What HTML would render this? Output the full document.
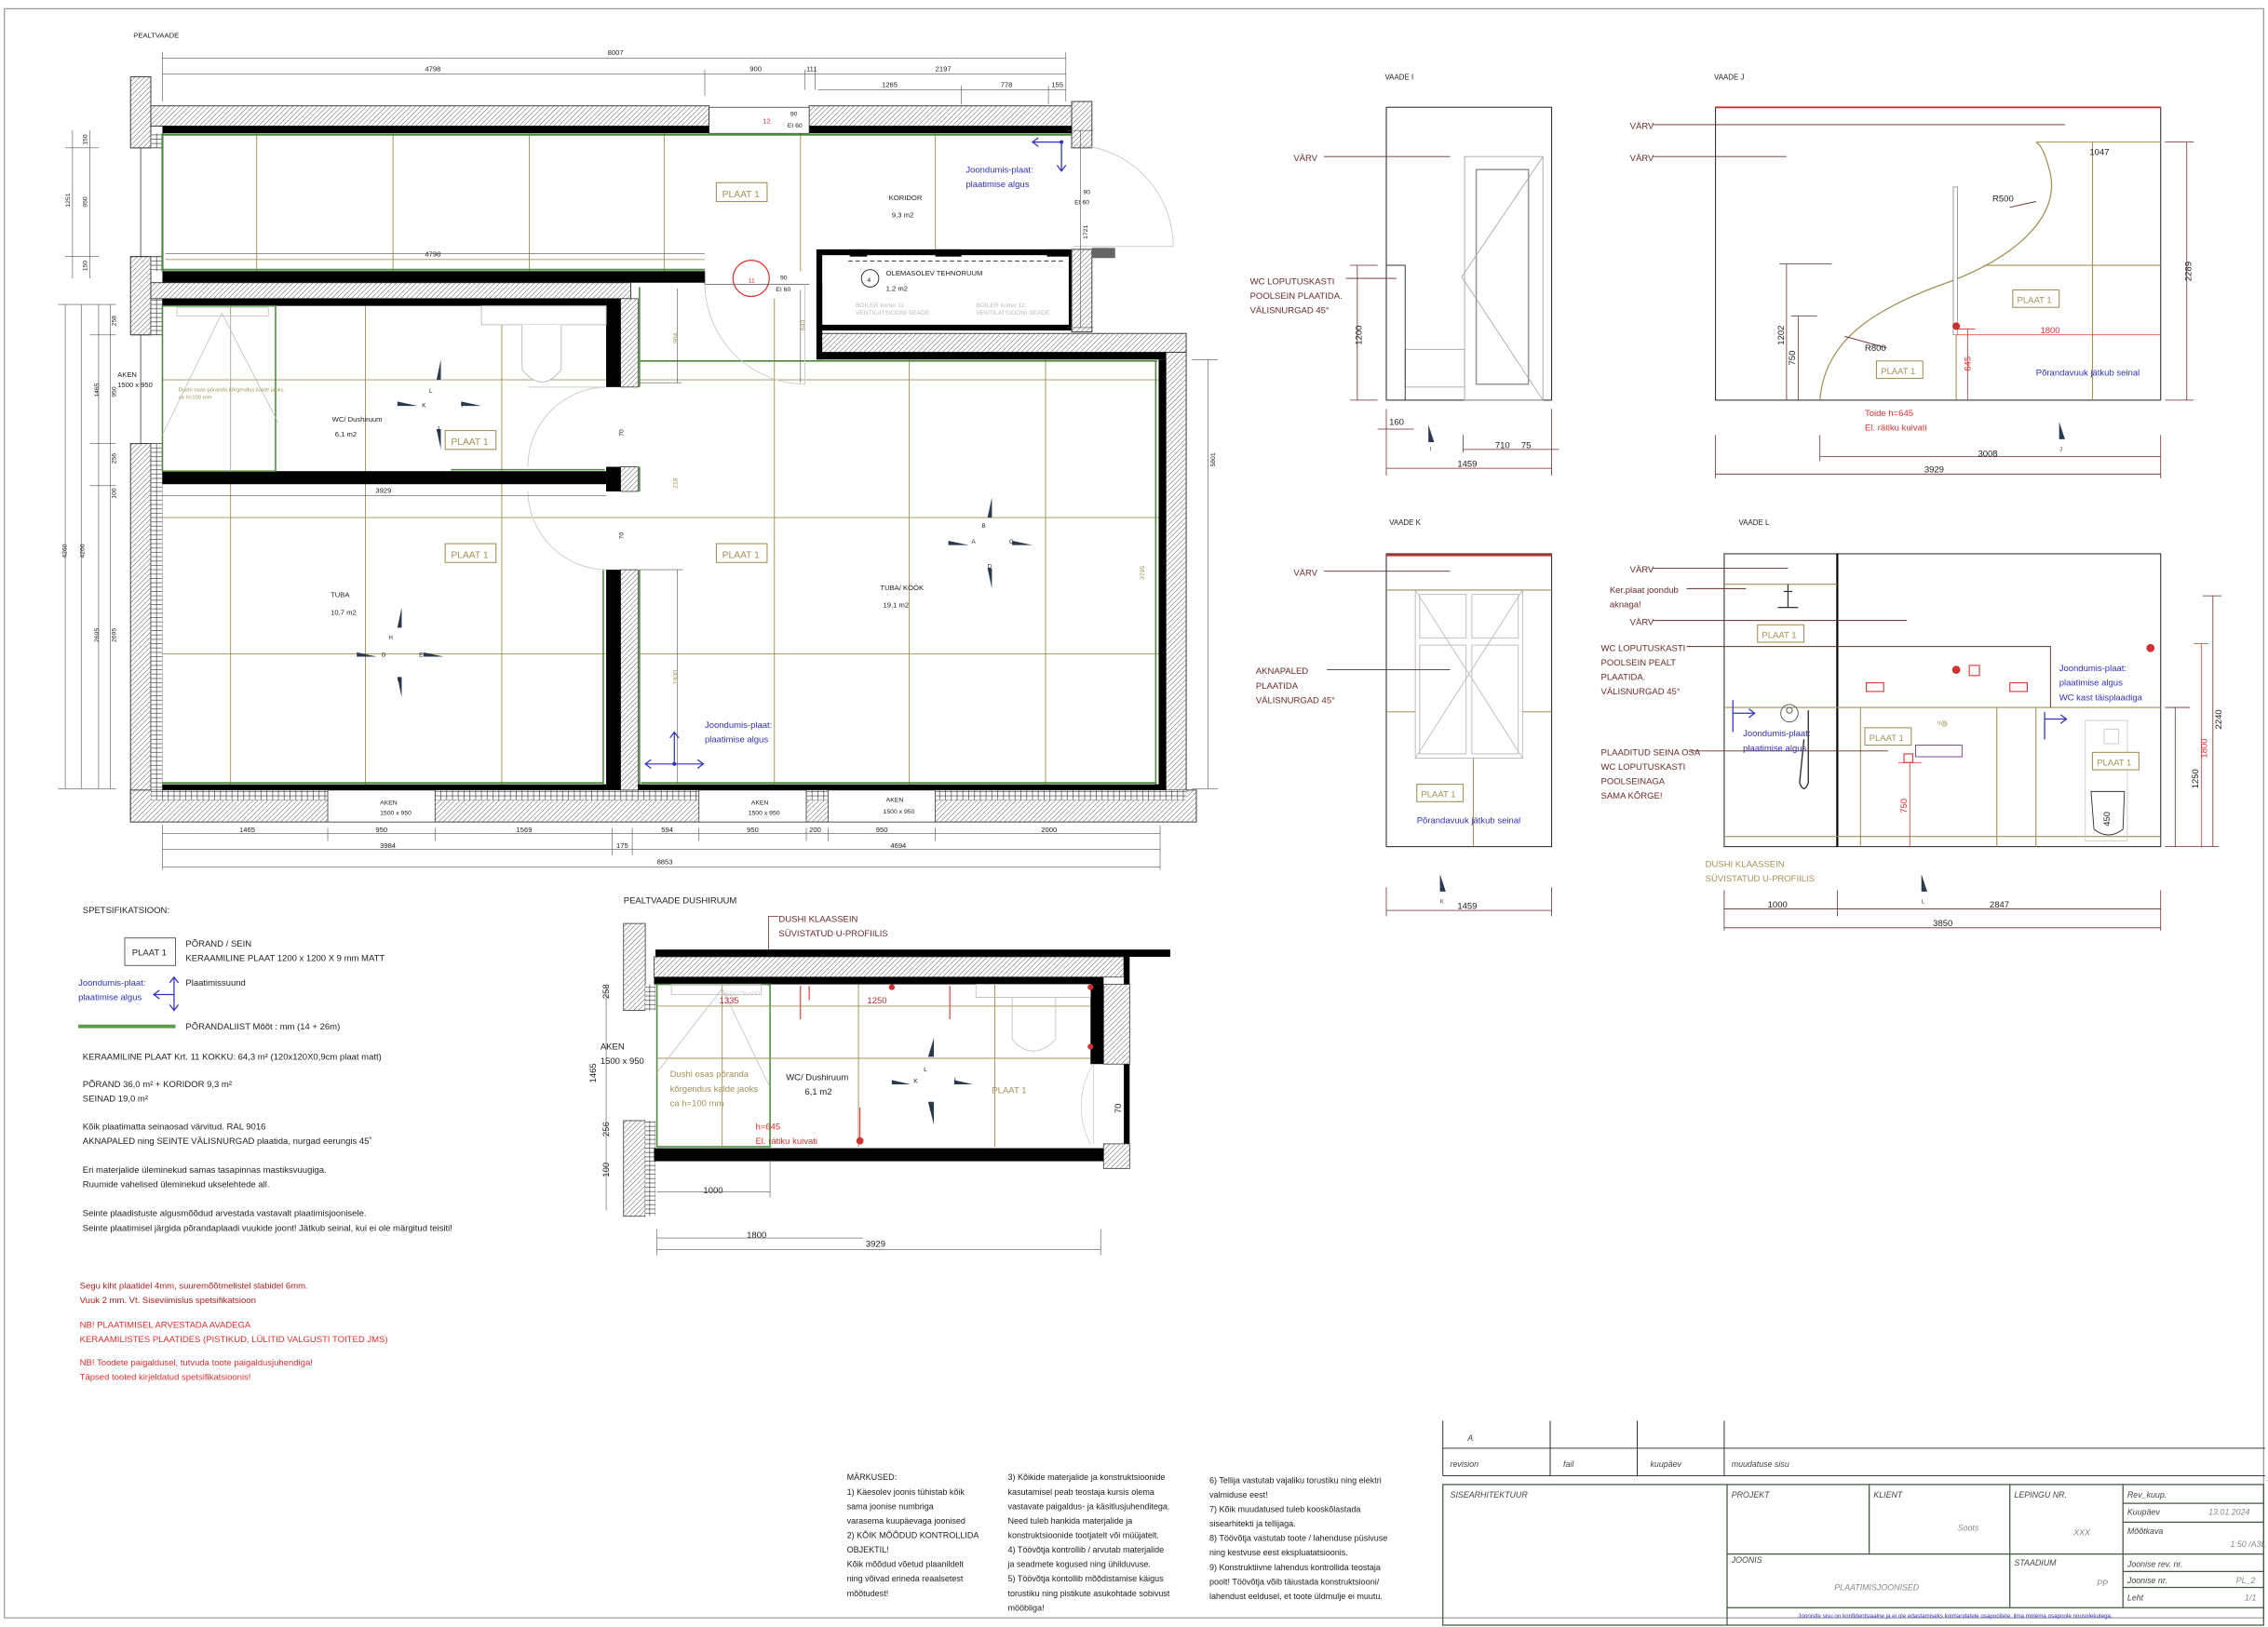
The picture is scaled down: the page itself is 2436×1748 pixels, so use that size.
<!DOCTYPE html>
<html><head><meta charset="utf-8"><style>
html,body{margin:0;padding:0;background:#fff}
svg{display:block}
text{font-family:"Liberation Sans Narrow","Liberation Sans",sans-serif}
[font-size="7"]{font-size:6.1px}
[font-size="7.5"]{font-size:6.6px}
[font-size="6.6"]{font-size:5.8px}
[font-size="6.5"]{font-size:5.7px}
[font-size="5.8"]{font-size:5.1px}
[font-size="5.5"]{font-size:4.9px}
[font-size="5"]{font-size:4.4px}
[font-size="4.5"]{font-size:4px}
</style></head><body>
<svg width="2436" height="1748" viewBox="0 0 1564 1122.3" xmlns="http://www.w3.org/2000/svg">
<defs>
<pattern id="h" patternUnits="userSpaceOnUse" width="2.4" height="2.4" patternTransform="rotate(45)">
<rect width="2.4" height="2.4" fill="#fff"/><line x1="0" y1="0" x2="0" y2="2.4" stroke="#555" stroke-width="0.6"/></pattern>
<pattern id="b" patternUnits="userSpaceOnUse" width="4" height="3">
<rect width="4" height="3" fill="#fff" stroke="#333" stroke-width="0.4"/></pattern>
</defs>
<rect x="0" y="0" width="1564" height="1122.3" fill="#fff"/>
<polyline points="3,1116 3,6 1561,6 1561,1116 3,1116" fill="none" stroke="#999" stroke-width="0.8"/>

<g font-size="5.5" fill="#222">
<text x="92" y="26">PEALTVAADE</text>
</g>

<g>
<g stroke="#a39155" stroke-width="0.6">
<line x1="177" y1="92" x2="177" y2="187"/><line x1="271" y1="92" x2="271" y2="187"/><line x1="365" y1="92" x2="365" y2="187"/><line x1="458" y1="92" x2="458" y2="187"/><line x1="552" y1="92" x2="552" y2="187"/><line x1="645" y1="92" x2="645" y2="172"/>
<line x1="114" y1="179" x2="486" y2="179"/>
<line x1="159" y1="211" x2="159" y2="542"/><line x1="252" y1="211" x2="252" y2="542"/><line x1="346" y1="224" x2="346" y2="542"/>
<line x1="534" y1="206" x2="534" y2="542"/><line x1="627" y1="248" x2="627" y2="542"/><line x1="721" y1="248" x2="721" y2="542"/>
<line x1="112" y1="262" x2="418" y2="262"/><line x1="441" y1="262" x2="799" y2="262"/>
<line x1="112" y1="357" x2="799" y2="357"/><line x1="112" y1="451" x2="418" y2="451"/><line x1="441" y1="451" x2="799" y2="451"/>
</g>
<rect x="90" y="53" width="14" height="49" fill="url(#h)" stroke="#333" stroke-width="0.6"/>
<rect x="90" y="177" width="14" height="54" fill="url(#h)" stroke="#333" stroke-width="0.6"/>
<rect x="90" y="306" width="14" height="261" fill="url(#h)" stroke="#333" stroke-width="0.6"/>
<rect x="104" y="92" width="8" height="10" fill="url(#b)"/><rect x="104" y="177" width="8" height="10" fill="url(#b)"/>
<rect x="104" y="206" width="8" height="25" fill="url(#b)"/><rect x="104" y="306" width="8" height="239" fill="url(#b)"/>
<g stroke="#333" stroke-width="0.5" fill="none"><line x1="90" y1="102" x2="112" y2="102"/><line x1="90" y1="177" x2="112" y2="177"/><line x1="97" y1="102" x2="97" y2="177"/><line x1="90" y1="231" x2="112" y2="231"/><line x1="90" y1="306" x2="112" y2="306"/><line x1="97" y1="231" x2="97" y2="306"/></g>
<rect x="104" y="73" width="385" height="14" fill="url(#h)" stroke="#333" stroke-width="0.6"/>
<rect x="558" y="73" width="182" height="14" fill="url(#h)" stroke="#333" stroke-width="0.6"/>
<rect x="739" y="70" width="14" height="32" fill="url(#h)" stroke="#333" stroke-width="0.6"/>
<rect x="112" y="87" width="377" height="5" fill="#000"/><rect x="558" y="87" width="181" height="5" fill="#000"/>
<rect x="489" y="74" width="69" height="18" fill="#fff" stroke="#333" stroke-width="0.5"/>
<text x="526" y="85" font-size="5.5" fill="#e03030">12</text>
<text x="545" y="80" font-size="5" fill="#222">90</text><text x="543" y="88" font-size="5" fill="#222">EI 60</text>
<polyline points="112,92 112,187" stroke="#4a8a3a" stroke-width="1.4" fill="none"/>
<line x1="112" y1="93" x2="739" y2="93" stroke="#4a8a3a" stroke-width="1.2"/>
<line x1="112" y1="186" x2="486" y2="186" stroke="#4a8a3a" stroke-width="1.2"/>
<rect x="112" y="187" width="374" height="8" fill="#000"/>
<rect x="104" y="195" width="331" height="11" fill="url(#h)" stroke="#333" stroke-width="0.6"/>
<line x1="486" y1="187" x2="486" y2="196" stroke="#333" stroke-width="0.5"/>
<line x1="486" y1="196" x2="558" y2="196" stroke="#333" stroke-width="0.4"/>
<circle cx="518" cy="192" r="12.5" fill="none" stroke="#e03030" stroke-width="0.8"/>
<text x="516" y="195" font-size="5" fill="#e03030">11</text>
<text x="538" y="193" font-size="5" fill="#222">90</text><text x="535" y="201" font-size="5" fill="#222">EI 60</text>
<rect x="565" y="174" width="174" height="52" fill="#fff" stroke="#000" stroke-width="4"/>
<line x1="585" y1="180" x2="735" y2="180" stroke="#333" stroke-width="0.6" stroke-dasharray="3,2"/>
<rect x="586" y="172" width="12" height="5" fill="#000"/><rect x="645" y="172" width="18" height="5" fill="#000"/><rect x="722" y="172" width="15" height="5" fill="#000"/>
<rect x="739" y="172" width="14" height="57" fill="url(#h)" stroke="#333" stroke-width="0.6"/>
<rect x="753" y="171" width="16" height="7" fill="#666"/>
<rect x="564" y="230" width="254" height="13" fill="url(#h)" stroke="#333" stroke-width="0.6"/>
<rect x="564" y="243" width="240" height="5" fill="#000"/>
<rect x="563" y="196" width="4" height="52" fill="#000"/>
<circle cx="600" cy="192" r="6" fill="#fff" stroke="#222" stroke-width="0.6"/>
<text x="598" y="194.5" font-size="5" fill="#222">4</text>
<text x="611" y="190" font-size="5.5" fill="#222">OLEMASOLEV TEHNORUUM</text>
<text x="611" y="200.5" font-size="5.5" fill="#222">1,2 m2</text>
<g font-size="4.3" fill="#bbb"><text x="590" y="212">BOILER korter 11</text><text x="590" y="217">VENTILATSIOONI SEADE</text><text x="673" y="212">BOILER korter 12</text><text x="673" y="217">VENTILATSIOONI SEADE</text></g>
<rect x="804" y="243" width="14" height="302" fill="url(#h)" stroke="#333" stroke-width="0.6"/>
<rect x="799" y="248" width="5" height="297" fill="#000"/>
<line x1="441" y1="249" x2="798" y2="249" stroke="#4a8a3a" stroke-width="1"/>
<line x1="797" y1="249" x2="797" y2="541" stroke="#4a8a3a" stroke-width="1"/>
<rect x="90" y="545" width="735" height="22" fill="url(#h)" stroke="#333" stroke-width="0.6"/>
<rect x="104" y="545" width="714" height="7" fill="url(#b)"/>
<g fill="#fff" stroke="#333" stroke-width="0.5"><rect x="226" y="545" width="74" height="22"/><rect x="482" y="545" width="74" height="22"/><rect x="571" y="545" width="74" height="22"/></g>
<g font-size="5" fill="#222"><text x="262" y="555">AKEN</text><text x="262" y="562">1500 x 950</text><text x="518" y="555">AKEN</text><text x="516" y="562">1500 x 950</text><text x="611" y="553">AKEN</text><text x="609" y="561">1500 x 950</text></g>
<rect x="112" y="541" width="306" height="4" fill="#000"/><rect x="440" y="541" width="364" height="4" fill="#000"/>
<line x1="112" y1="540" x2="416" y2="540" stroke="#4a8a3a" stroke-width="1"/><line x1="442" y1="540" x2="797" y2="540" stroke="#4a8a3a" stroke-width="1"/>
<rect x="112" y="206" width="306" height="5" fill="#000"/>
<rect x="112" y="325" width="306" height="9" fill="#000"/>
<line x1="311" y1="324" x2="417" y2="324" stroke="#4a8a3a" stroke-width="1"/>
<rect x="418" y="206" width="10" height="61" fill="#000"/><rect x="428" y="206" width="12" height="61" fill="url(#h)" stroke="#333" stroke-width="0.5"/>
<rect x="418" y="322" width="10" height="17" fill="#000"/><rect x="428" y="322" width="12" height="17" fill="url(#h)" stroke="#333" stroke-width="0.5"/>
<rect x="418" y="393" width="10" height="152" fill="#000"/><rect x="428" y="393" width="12" height="152" fill="url(#h)" stroke="#333" stroke-width="0.5"/>
<line x1="441" y1="198" x2="441" y2="267" stroke="#4a8a3a" stroke-width="1"/><line x1="441" y1="322" x2="441" y2="339" stroke="#4a8a3a" stroke-width="1"/><line x1="441" y1="393" x2="441" y2="541" stroke="#4a8a3a" stroke-width="1"/>
<line x1="416" y1="393" x2="416" y2="541" stroke="#4a8a3a" stroke-width="1"/>
<rect x="112" y="211" width="78" height="114" fill="none" stroke="#4a8a3a" stroke-width="1"/>
<g stroke="#bbb" stroke-width="0.5" fill="none"><rect x="122" y="212" width="63" height="6"/><line x1="112" y1="300" x2="153" y2="216"/><line x1="192" y1="292" x2="153" y2="216"/><line x1="159" y1="216" x2="159" y2="325"/></g>
<text x="123" y="270" font-size="3.8" fill="#a39155">Dushi osas põranda kõrgendus kalde jaoks</text><text x="123" y="275" font-size="3.8" fill="#a39155">ca h=100 mm</text>
<g stroke="#bbb" stroke-width="0.6" fill="#fff"><rect x="332" y="211" width="86" height="13"/><path d="M360,224 L360,255 Q374,272 387,255 L387,224"/></g>
<g stroke="#ccc" stroke-width="0.6" fill="none">
<path d="M418,267 L364,267 M364,322 A55,55 0 0 1 418,267"/>
<path d="M364,339 A55,55 0 0 0 418,393"/>
<path d="M486,196 A70,70 0 0 0 555,265 L555,196"/>
<path d="M740,100 A70,70 0 0 1 809,170 L740,170"/>
</g>
<text x="425" y="298" font-size="5" fill="#222" transform="rotate(-90 429 297)">70</text>
<text x="425" y="369" font-size="5" fill="#222" transform="rotate(-90 429 368)">70</text>
<g font-size="7.5" fill="#a39155"><rect x="494" y="126" width="35" height="13" fill="#fff" stroke="#a39155" stroke-width="0.7"/><text x="498" y="136">PLAAT 1</text>
<rect x="307" y="297" width="35" height="13" fill="#fff" stroke="#a39155" stroke-width="0.7"/><text x="311" y="307">PLAAT 1</text>
<rect x="307" y="375" width="35" height="13" fill="#fff" stroke="#a39155" stroke-width="0.7"/><text x="311" y="385">PLAAT 1</text>
<rect x="494" y="375" width="35" height="13" fill="#fff" stroke="#a39155" stroke-width="0.7"/><text x="498" y="385">PLAAT 1</text></g>
<g font-size="5.5" fill="#222">
<text x="613" y="138">KORIDOR</text><text x="615" y="150">9,3 m2</text>
<text x="229" y="291">WC/ Dushiruum</text><text x="231" y="301">6,1 m2</text>
<text x="228" y="412">TUBA</text><text x="228" y="424">10,7 m2</text>
<text x="607" y="407">TUBA/ KÖÖK</text><text x="609" y="419">19,1 m2</text>
<text x="81" y="260">AKEN</text><text x="81" y="267">1500 x 950</text>
</g>
<g font-size="7" fill="#3030c0"><text x="666" y="119">Joondumis-plaat:</text><text x="666" y="129">plaatimise algus</text>
<text x="486" y="502">Joondumis-plaat:</text><text x="486" y="512">plaatimise algus</text></g>
<g stroke="#3030c0" stroke-width="0.8" fill="none"><path d="M732,98 L712,98 M716,95 L712,98 L716,101 M732,98 L732,118 M729,114 L732,118 L735,114"/>
<path d="M465,527 L465,505 M462,509 L465,505 L468,509 M445,527 L485,527 M449,524 L445,527 L449,530 M481,524 L485,527 L481,530"/></g>
<circle cx="732" cy="98" r="1.3" fill="#3030c0"/><circle cx="465" cy="527" r="1.3" fill="#3030c0"/>
<g fill="#2a3a50">
<path d="M304,248 L304,262 L301,262Z"/><path d="M288,280 L274,280 L274,277Z"/><path d="M318,280 L332,280 L318,277Z"/><path d="M304,296 L304,310 L301,296Z"/>
<path d="M684,343 L684,357 L681,357Z"/><path d="M668,376 L654,376 L654,373Z"/><path d="M698,376 L712,376 L698,373Z"/><path d="M684,392 L684,406 L681,392Z"/>
<path d="M277,419 L277,433 L274,433Z"/><path d="M260,453 L246,453 L246,450Z"/><path d="M292,453 L306,453 L292,450Z"/><path d="M277,467 L277,481 L274,467Z"/>
</g>
<g font-size="4.5" fill="#222"><text x="296" y="271">L</text><text x="291" y="281">K</text><text x="318" y="281">I</text><text x="301" y="297">J</text>
<text x="677" y="364">B</text><text x="670" y="375">A</text><text x="696" y="375">C</text><text x="681" y="392">D</text>
<text x="268" y="441">H</text><text x="263" y="453">G</text><text x="289" y="453">E</text><text x="274" y="470">F</text></g>
<g stroke="#555" stroke-width="0.4">
<line x1="112" y1="40" x2="735" y2="40"/><line x1="112" y1="36" x2="112" y2="70"/><line x1="735" y1="36" x2="735" y2="70"/>
<line x1="112" y1="51" x2="735" y2="51"/><line x1="486" y1="48" x2="486" y2="66"/><line x1="555" y1="48" x2="555" y2="62"/><line x1="562" y1="48" x2="562" y2="62"/>
<line x1="564" y1="62" x2="735" y2="62"/><line x1="663" y1="59" x2="663" y2="72"/><line x1="723" y1="59" x2="723" y2="72"/>
<line x1="112" y1="569" x2="112" y2="600"/><line x1="112" y1="575" x2="800" y2="575"/><line x1="112" y1="586" x2="800" y2="586"/><line x1="112" y1="598" x2="800" y2="598"/>
<line x1="226" y1="571" x2="226" y2="580"/><line x1="300" y1="571" x2="300" y2="580"/><line x1="422" y1="571" x2="422" y2="590"/><line x1="436" y1="571" x2="436" y2="590"/><line x1="482" y1="571" x2="482" y2="580"/><line x1="556" y1="571" x2="556" y2="580"/><line x1="571" y1="571" x2="571" y2="580"/><line x1="645" y1="571" x2="645" y2="580"/><line x1="800" y1="569" x2="800" y2="600"/>
<line x1="50" y1="90" x2="50" y2="192"/><line x1="62" y1="90" x2="62" y2="192"/><line x1="45" y1="210" x2="45" y2="544"/><line x1="56" y1="210" x2="56" y2="544"/><line x1="68" y1="210" x2="68" y2="544"/><line x1="76" y1="210" x2="76" y2="544"/>
<line x1="40" y1="210" x2="80" y2="210"/><line x1="40" y1="544" x2="80" y2="544"/><line x1="45" y1="102" x2="68" y2="102"/><line x1="45" y1="177" x2="68" y2="177"/><line x1="62" y1="231" x2="80" y2="231"/><line x1="62" y1="306" x2="80" y2="306"/><line x1="62" y1="335" x2="80" y2="335"/>
<line x1="736" y1="90" x2="754" y2="90"/><line x1="745" y1="90" x2="745" y2="226"/><line x1="736" y1="226" x2="754" y2="226"/>
<line x1="822" y1="248" x2="840" y2="248"/><line x1="822" y1="544" x2="840" y2="544"/><line x1="833" y1="248" x2="833" y2="544"/>
<line x1="467" y1="199" x2="467" y2="264"/><line x1="441" y1="264" x2="470" y2="264"/><line x1="552" y1="200" x2="552" y2="264"/>
<line x1="467" y1="393" x2="467" y2="540"/><line x1="441" y1="393" x2="471" y2="393"/>
<line x1="112" y1="342" x2="418" y2="342"/>
<line x1="114" y1="175" x2="486" y2="175"/>
</g>
<g font-size="5.5" fill="#222">
<text x="419" y="38">8007</text><text x="293" y="49">4798</text><text x="517" y="49">900</text><text x="556" y="49">111</text><text x="645" y="49">2197</text>
<text x="608" y="60">1265</text><text x="690" y="60">778</text><text x="725" y="60">155</text>
<text x="293" y="177">4798</text><text x="259" y="340">3929</text>
<text x="165" y="574">1465</text><text x="259" y="574">950</text><text x="356" y="574">1569</text><text x="456" y="574">594</text><text x="515" y="574">950</text><text x="558" y="574">200</text><text x="604" y="574">950</text><text x="718" y="574">2000</text>
<text x="262" y="585">3984</text><text x="425" y="585">175</text><text x="614" y="585">4694</text><text x="453" y="596">8853</text>
</g>
<g font-size="5" fill="#222">
<text transform="translate(48,143) rotate(-90)">1251</text><text transform="translate(60,143) rotate(-90)">950</text><text transform="translate(60,100) rotate(-90)">150</text><text transform="translate(60,187) rotate(-90)">150</text>
<text transform="translate(46,385) rotate(-90)">4260</text><text transform="translate(58,385) rotate(-90)">4260</text><text transform="translate(68,274) rotate(-90)">1465</text><text transform="translate(80,274) rotate(-90)">950</text><text transform="translate(80,225) rotate(-90)">258</text><text transform="translate(80,320) rotate(-90)">256</text><text transform="translate(80,344) rotate(-90)">100</text>
<text transform="translate(68,443) rotate(-90)">2695</text><text transform="translate(80,443) rotate(-90)">2695</text>
<text transform="translate(750,165) rotate(-90)">1721</text><text transform="translate(838,322) rotate(-90)">5801</text>
<text transform="translate(747,134) rotate(0)">90</text><text x="741" y="141">EI 60</text>
</g>
<g font-size="5" fill="#a39155"><text transform="translate(467,237) rotate(-90)">904</text><text transform="translate(555,228) rotate(-90)">643</text><text transform="translate(467,337) rotate(-90)">218</text><text transform="translate(467,472) rotate(-90)">1930</text><text transform="translate(789,400) rotate(-90)">3795</text></g>
</g>

<g font-size="5.8" fill="#222"><text x="955" y="55">VAADE I</text><text x="1182" y="55">VAADE J</text><text x="958" y="362">VAADE K</text><text x="1199" y="362">VAADE L</text></g>
<g stroke="#333" stroke-width="0.7" fill="none">
<rect x="956" y="74" width="114" height="202"/><rect x="1183" y="74" width="307" height="202"/>
<rect x="956" y="382" width="114" height="202"/><rect x="1189" y="382" width="301" height="202"/>
</g>
<line x1="1183" y1="74" x2="1490" y2="74" stroke="#d03030" stroke-width="1.2"/>
<line x1="956" y1="383" x2="1070" y2="383" stroke="#d03030" stroke-width="1.4"/>
<g stroke="#aaa" stroke-width="0.6" fill="none"><rect x="1010" y="108" width="54" height="168"/><rect x="1018" y="117" width="36" height="148" stroke="#999" stroke-width="1"/><path d="M1064,108 L1008,191 L1064,276"/><rect x="969" y="241" width="41" height="26"/></g>
<polyline points="956,183 969,183 969,276" fill="none" stroke="#333" stroke-width="0.6"/>
<path d="M1255,276 C1258,236 1290,214 1340,196 C1390,178 1420,150 1414,120 C1411,108 1408,100 1404,98" fill="none" stroke="#a39155" stroke-width="0.8"/>
<g stroke="#a39155" stroke-width="0.7"><line x1="1404" y1="98" x2="1490" y2="98"/><line x1="1368" y1="183" x2="1490" y2="183"/><line x1="1443" y1="98" x2="1443" y2="276"/><line x1="1349" y1="196" x2="1349" y2="276"/></g>
<rect x="1347" y="129" width="3" height="102" fill="#fff" stroke="#666" stroke-width="0.4"/>
<circle cx="1349" cy="225" r="2.6" fill="#c83030"/>
<g stroke="#e03030" stroke-width="0.5"><line x1="1349" y1="231" x2="1490" y2="231"/><line x1="1357" y1="227" x2="1357" y2="276"/><line x1="1350" y1="227" x2="1362" y2="227"/></g>
<g stroke="#bbb" stroke-width="0.6" fill="none"><rect x="976" y="407" width="74" height="116"/><rect x="979" y="410" width="32" height="30"/><rect x="1015" y="410" width="32" height="30"/><rect x="979" y="445" width="32" height="75"/><rect x="1015" y="445" width="32" height="75"/><path d="M976,407 L1050,523 M1050,407 L976,523"/></g>
<g stroke="#a39155" stroke-width="0.7"><line x1="956" y1="407" x2="1070" y2="407"/><line x1="956" y1="491" x2="976" y2="491"/><line x1="1050" y1="491" x2="1070" y2="491"/><line x1="1016" y1="523" x2="1016" y2="584"/></g>
<line x1="1267" y1="382" x2="1267" y2="584" stroke="#000" stroke-width="1.4"/>
<g stroke="#a39155" stroke-width="0.7"><line x1="1189" y1="403" x2="1267" y2="403"/><line x1="1189" y1="488" x2="1490" y2="488"/><line x1="1189" y1="577" x2="1490" y2="577"/><line x1="1283" y1="488" x2="1283" y2="584"/><line x1="1377" y1="488" x2="1377" y2="584"/><line x1="1404" y1="488" x2="1404" y2="584"/></g>
<g stroke="#ccc" stroke-width="0.6" fill="none"><rect x="1438" y="497" width="29" height="83"/><rect x="1451" y="503" width="10" height="10"/></g>
<path d="M1442,546 L1465,546 L1464,572 Q1454,580 1444,572Z" fill="#fff" stroke="#333" stroke-width="0.6"/>
<rect x="1321" y="514" width="32" height="8" fill="none" stroke="#7a3a8a" stroke-width="0.6"/>
<g stroke="#e03030" stroke-width="0.7" fill="none"><rect x="1287" y="471" width="12" height="6"/><rect x="1386" y="471" width="12" height="6"/><rect x="1358" y="459" width="7" height="7"/><rect x="1313" y="520" width="6" height="6"/></g>
<circle cx="1349" cy="462" r="2.8" fill="#d03030"/><circle cx="1483" cy="447" r="2.8" fill="#d03030"/>
<circle cx="1234" cy="492" r="6" fill="none" stroke="#555" stroke-width="0.6"/><circle cx="1234" cy="490" r="2" fill="none" stroke="#555" stroke-width="0.6"/>
<path d="M1247,490 L1247,540 Q1244,548 1241,540 L1244,510" fill="none" stroke="#333" stroke-width="0.9"/>
<path d="M1230,408 L1236,408 M1233,403 L1233,419 M1226,419 L1240,419" stroke="#333" stroke-width="0.8" fill="none"/>
<text x="1336" y="501" font-size="6" fill="#a39155">ᵑ⊚</text>
<g stroke="#6b2a2a" stroke-width="0.6" fill="none">
<line x1="913" y1="108" x2="1000" y2="108"/><line x1="1140" y1="86" x2="1424" y2="86"/><line x1="1140" y1="108" x2="1232" y2="108"/>
<line x1="928" y1="192" x2="963" y2="192"/><line x1="913" y1="394" x2="1000" y2="394"/><line x1="915" y1="462" x2="1000" y2="462"/>
<line x1="1140" y1="392" x2="1233" y2="392"/><line x1="1163" y1="406" x2="1204" y2="406"/><line x1="1140" y1="428" x2="1315" y2="428"/>
<polyline points="1163,446 1414,446 1414,488"/><line x1="1166" y1="518" x2="1302" y2="518"/>
<line x1="1386" y1="143" x2="1404" y2="139"/><line x1="1301" y1="240" x2="1272" y2="232"/>
</g>
<g font-size="7" fill="#6b2a2a">
<text x="892" y="111">VÄRV</text><text x="1124" y="89">VÄRV</text><text x="1124" y="111">VÄRV</text>
<text x="862" y="196">WC LOPUTUSKASTI</text><text x="862" y="206">POOLSEIN  PLAATIDA.</text><text x="862" y="216">VÄLISNURGAD 45°</text>
<text x="892" y="397">VÄRV</text><text x="866" y="465">AKNAPALED</text><text x="866" y="475">PLAATIDA</text><text x="866" y="485">VÄLISNURGAD 45°</text>
<text x="1124" y="395">VÄRV</text><text x="1110" y="409">Ker.plaat joondub</text><text x="1110" y="419">aknaga!</text><text x="1124" y="431">VÄRV</text>
<text x="1104" y="449">WC LOPUTUSKASTI</text><text x="1104" y="459">POOLSEIN  PEALT</text><text x="1104" y="469">PLAATIDA.</text><text x="1104" y="479">VÄLISNURGAD 45°</text>
<text x="1104" y="521">PLAADITUD SEINA OSA</text><text x="1104" y="531">WC LOPUTUSKASTI</text><text x="1104" y="541">POOLSEINAGA</text><text x="1104" y="551">SAMA KÕRGE!</text>
</g>
<g font-size="7" fill="#222"><text x="1374" y="139">R500</text><text x="1286" y="242">R800</text><text x="1441" y="107">1047</text></g>
<g font-size="7" fill="#a39155"><text x="1176" y="598">DUSHI KLAASSEIN</text><text x="1176" y="608">SÜVISTATUD U-PROFIILIS</text></g>
<g font-size="7" fill="#a39155">
<rect x="1388" y="200" width="32" height="12" fill="#fff" stroke="#a39155" stroke-width="0.7"/><text x="1391" y="209">PLAAT 1</text>
<rect x="1294" y="249" width="32" height="12" fill="#fff" stroke="#a39155" stroke-width="0.7"/><text x="1297" y="258">PLAAT 1</text>
<rect x="977" y="541" width="32" height="12" fill="#fff" stroke="#a39155" stroke-width="0.7"/><text x="980" y="550">PLAAT 1</text>
<rect x="1212" y="431" width="32" height="12" fill="#fff" stroke="#a39155" stroke-width="0.7"/><text x="1215" y="440">PLAAT 1</text>
<rect x="1286" y="502" width="32" height="12" fill="#fff" stroke="#a39155" stroke-width="0.7"/><text x="1289" y="511">PLAAT 1</text>
<rect x="1443" y="519" width="32" height="12" fill="#fff" stroke="#a39155" stroke-width="0.7"/><text x="1446" y="528">PLAAT 1</text>
</g>
<g font-size="7" fill="#3030c0"><text x="1404" y="259">Põrandavuuk jätkub seinal</text><text x="977" y="568">Põrandavuuk jätkub seinal</text>
<text x="1420" y="463">Joondumis-plaat:</text><text x="1420" y="473">plaatimise algus</text><text x="1420" y="483">WC kast täisplaadiga</text>
<text x="1202" y="508">Joondumis-plaat:</text><text x="1202" y="518">plaatimise algus</text></g>
<g stroke="#3030c0" stroke-width="0.8" fill="none"><path d="M1195,483 L1195,505 M1195,492 L1210,492 M1206,489 L1210,492 L1206,495"/><path d="M1410,491 L1410,510 M1410,496 L1425,496 M1421,493 L1425,496 L1421,499"/></g>
<g font-family="Liberation Mono,monospace" font-size="7" fill="#e03030"><text x="1286" y="287">Toide h=645</text><text x="1286" y="297">El. rätiku kuivati</text></g>
<g stroke="#6b2a2a" stroke-width="0.5" fill="none">
<line x1="936" y1="183" x2="936" y2="276"/><line x1="931" y1="183" x2="950" y2="183"/><line x1="931" y1="276" x2="950" y2="276"/>
<line x1="956" y1="282" x2="956" y2="328"/><line x1="1070" y1="282" x2="1070" y2="328"/><line x1="956" y1="323" x2="1070" y2="323"/><line x1="950" y1="296" x2="975" y2="296"/><line x1="1009" y1="300" x2="1009" y2="312"/><line x1="1009" y1="310" x2="1075" y2="310"/>
<line x1="1232" y1="182" x2="1232" y2="276"/><line x1="1227" y1="182" x2="1263" y2="182"/><line x1="1240" y1="218" x2="1240" y2="276"/><line x1="1235" y1="218" x2="1253" y2="218"/>
<line x1="1508" y1="98" x2="1508" y2="276"/><line x1="1493" y1="98" x2="1513" y2="98"/><line x1="1493" y1="276" x2="1513" y2="276"/>
<line x1="1183" y1="300" x2="1183" y2="330"/><line x1="1490" y1="300" x2="1490" y2="330"/><line x1="1255" y1="300" x2="1255" y2="318"/><line x1="1255" y1="315" x2="1490" y2="315"/><line x1="1183" y1="327" x2="1490" y2="327"/>
<line x1="956" y1="612" x2="956" y2="632"/><line x1="1070" y1="612" x2="1070" y2="632"/><line x1="956" y1="628" x2="1070" y2="628"/>
<line x1="1189" y1="614" x2="1189" y2="642"/><line x1="1267" y1="614" x2="1267" y2="632"/><line x1="1490" y1="614" x2="1490" y2="642"/><line x1="1189" y1="627" x2="1490" y2="627"/><line x1="1189" y1="640" x2="1490" y2="640"/>
<line x1="1500" y1="488" x2="1500" y2="584"/><line x1="1493" y1="488" x2="1510" y2="488"/><line x1="1493" y1="584" x2="1530" y2="584"/><line x1="1526" y1="411" x2="1526" y2="584"/><line x1="1519" y1="411" x2="1532" y2="411"/>
</g>
<g stroke="#e03030" stroke-width="0.5"><line x1="1518" y1="444" x2="1518" y2="584"/><line x1="1513" y1="444" x2="1523" y2="444"/><line x1="1317" y1="526" x2="1317" y2="584"/><line x1="1309" y1="526" x2="1325" y2="526"/></g>
<g font-size="7" fill="#222">
<text x="958" y="293">160</text><text x="1031" y="309">710</text><text x="1049" y="309">75</text><text x="1005" y="322">1459</text>
<text x="1364" y="315">3008</text><text x="1327" y="326">3929</text><text x="1005" y="627">1459</text><text x="1219" y="626">1000</text><text x="1372" y="626">2847</text><text x="1333" y="639">3850</text>
<text transform="translate(939,238) rotate(-90)">1200</text><text transform="translate(1230,238) rotate(-90)">1202</text><text transform="translate(1238,252) rotate(-90)">750</text><text transform="translate(1511,194) rotate(-90)">2289</text>
<text transform="translate(1516,544) rotate(-90)">1250</text><text transform="translate(1532,503) rotate(-90)">2240</text><text transform="translate(1455,570) rotate(-90)">450</text>
</g>
<g font-size="7" fill="#e03030"><text x="1407" y="230">1800</text><text transform="translate(1359,256) rotate(-90)">645</text><text transform="translate(1522,523) rotate(-90)">1800</text><text transform="translate(1315,561) rotate(-90)">750</text></g>
<g fill="#2a3a50"><path d="M985,293 L985,305 L989,305Z"/><path d="M1420,291 L1420,303 L1424,303Z"/><path d="M993,603 L993,615 L997,615Z"/><path d="M1325,603 L1325,615 L1329,615Z"/></g>
<g font-size="5" fill="#555"><text x="986" y="311">I</text><text x="1420" y="311">J</text><text x="993" y="623">K</text><text x="1325" y="623">L</text></g>

<g font-size="7" fill="#222">
<text x="57" y="630">SPETSIFIKATSIOON:</text>
<rect x="86" y="647" width="35" height="19" fill="#fff" stroke="#555" stroke-width="0.6"/><text x="91" y="659">PLAAT 1</text>
<text x="128" y="653">PÕRAND / SEIN</text><text x="128" y="663">KERAAMILINE PLAAT 1200 x 1200 X 9 mm MATT</text>
<text x="128" y="680">Plaatimissuund</text>
<text x="128" y="710">PÕRANDALIIST Mõõt : mm (14 + 26m)</text>
<text x="57" y="731">KERAAMILINE PLAAT Krt. 11   KOKKU: 64,3 m² (120x120X0,9cm plaat matt)</text>
<text x="57" y="750">PÕRAND 36,0 m² + KORIDOR 9,3 m²</text><text x="57" y="760">SEINAD 19,0 m²</text>
<text x="57" y="779">Kõik plaatimatta seinaosad värvitud. RAL 9016</text><text x="57" y="789">AKNAPALED  ning  SEINTE VÄLISNURGAD plaatida, nurgad eerungis 45˚</text>
<text x="57" y="809">Eri materjalide üleminekud samas tasapinnas mastiksvuugiga.</text><text x="57" y="819">Ruumide vahelised üleminekud ukselehtede all.</text>
<text x="57" y="839">Seinte plaadistuste algusmõõdud arvestada vastavalt plaatimisjoonisele.</text><text x="57" y="849">Seinte plaatimisel järgida põrandaplaadi vuukide joont! Jätkub seinal, kui ei ole märgitud teisiti!</text>
</g>
<g font-size="7" fill="#b02020">
<text x="55" y="889">Segu kiht plaatidel 4mm, suuremõõtmelistel slabidel 6mm.</text><text x="55" y="899">Vuuk 2 mm. Vt. Siseviimislus spetsifikatsioon</text>
<text x="55" y="916" fill="#e03030">NB! PLAATIMISEL ARVESTADA AVADEGA</text><text x="55" y="926" fill="#e03030">KERAAMILISTES PLAATIDES (PISTIKUD, LÜLITID VALGUSTI TOITED JMS)</text>
<text x="55" y="942" fill="#e03030">NB! Toodete paigaldusel, tutvuda toote paigaldusjuhendiga!</text><text x="55" y="952" fill="#e03030">Täpsed tooted kirjeldatud spetsifikatsioonis!</text>
</g>
<g font-size="7" fill="#3030c0"><text x="54" y="680">Joondumis-plaat:</text><text x="54" y="690">plaatimise algus</text></g>
<path d="M120,674 L120,697 M117,678 L120,674 L123,678 M117,693 L120,697 L123,693 M120,686 L106,686 M110,683 L106,686 L110,689" stroke="#3030c0" stroke-width="0.8" fill="none"/>
<line x1="54" y1="708" x2="121" y2="708" stroke="#5a9a48" stroke-width="2.5"/>

<g>
<text x="430" y="623" font-size="7" fill="#222">PEALTVAADE DUSHIRUUM</text>
<text x="537" y="636" font-size="7" fill="#6b2a2a">DUSHI KLAASSEIN</text><text x="537" y="646" font-size="7" fill="#6b2a2a">SÜVISTATUD U-PROFIILIS</text>
<polyline points="537,632 530,632 530,680" stroke="#6b2a2a" stroke-width="0.5" fill="none"/>
<rect x="430" y="637" width="15" height="60" fill="url(#h)" stroke="#333" stroke-width="0.5"/><rect x="430" y="773" width="15" height="66" fill="url(#h)" stroke="#333" stroke-width="0.5"/>
<rect x="445" y="679" width="7" height="18" fill="url(#b)"/><rect x="445" y="773" width="7" height="66" fill="url(#b)"/>
<rect x="452" y="655" width="355" height="5" fill="#000"/>
<rect x="451" y="660" width="324" height="14" fill="url(#h)" stroke="#333" stroke-width="0.5"/>
<rect x="451" y="674" width="310" height="5" fill="#000"/>
<rect x="775" y="660" width="4" height="140" fill="#000"/>
<rect x="761" y="679" width="18" height="55" fill="url(#h)" stroke="#333" stroke-width="0.5"/><rect x="761" y="789" width="18" height="17" fill="url(#h)" stroke="#333" stroke-width="0.5"/>
<rect x="752" y="679" width="9" height="55" fill="#000"/>
<rect x="451" y="792" width="310" height="9" fill="#000"/>
<rect x="453" y="679" width="78" height="112" fill="none" stroke="#4a8a3a" stroke-width="1"/>
<g stroke="#a39155" stroke-width="0.6"><line x1="453" y1="730" x2="752" y2="730"/><line x1="498" y1="679" x2="498" y2="791"/><line x1="592" y1="679" x2="592" y2="791"/><line x1="686" y1="679" x2="686" y2="791"/><line x1="453" y1="694" x2="752" y2="694"/></g>
<g stroke="#bbb" stroke-width="0.5" fill="none"><rect x="463" y="679" width="62" height="7"/><path d="M453,740 L498,682 L531,750"/><path d="M673,679 L752,679 L752,688 L673,688Z"/><path d="M698,688 L698,717 Q712,733 728,717 L728,688"/></g>
<text x="497" y="687" font-size="5" fill="#ccc">REDUTRAPP</text>
<path d="M754,734 A55,55 0 0 0 752,789 M754,734 L754,789" stroke="#ccc" stroke-width="0.5" fill="none"/>
<g font-size="7" fill="#a39155"><text x="462" y="743">Dushi osas põranda</text><text x="462" y="753">kõrgendus kalde jaoks</text><text x="462" y="763">ca h=100 mm</text><text x="684" y="754">PLAAT 1</text></g>
<g font-size="7" fill="#222"><text x="542" y="745">WC/ Dushiruum</text><text x="555" y="755">6,1 m2</text><text x="414" y="724">AKEN</text><text x="414" y="734">1500 x 950</text><text x="485" y="823">1000</text><text x="515" y="854">1800</text><text x="597" y="860">3929</text><text x="496" y="692" fill="#a33">1335</text><text x="598" y="692" fill="#a33">1250</text></g>
<text transform="translate(773,768) rotate(-90)" font-size="7" fill="#222">70</text>
<g font-size="7" fill="#222"><text transform="translate(411,747) rotate(-90)">1465</text><text transform="translate(420,689) rotate(-90)">258</text><text transform="translate(420,784) rotate(-90)">256</text><text transform="translate(420,812) rotate(-90)">100</text></g>
<g font-family="Liberation Mono,monospace" font-size="7" fill="#e03030"><text x="521" y="779">h=645</text><text x="521" y="789">El. rätiku kuivati</text></g>
<g fill="#d03030"><circle cx="593" cy="787" r="2.5"/><circle cx="615" cy="681" r="2"/><circle cx="752" cy="681" r="2"/><circle cx="752" cy="722" r="2"/></g>
<g stroke="#e03030" stroke-width="0.7"><line x1="552" y1="680" x2="552" y2="703"/><line x1="558" y1="680" x2="558" y2="690"/><line x1="655" y1="680" x2="655" y2="703"/><line x1="593" y1="764" x2="593" y2="787"/></g>
<g stroke="#555" stroke-width="0.4"><line x1="453" y1="822" x2="531" y2="822"/><line x1="531" y1="800" x2="531" y2="826"/><line x1="453" y1="854" x2="595" y2="854"/><line x1="453" y1="862" x2="759" y2="862"/><line x1="453" y1="848" x2="453" y2="866"/><line x1="759" y1="848" x2="759" y2="866"/><line x1="418" y1="680" x2="418" y2="835"/></g>
<g fill="#2a3a50"><path d="M644,716 L644,729 L640,729Z"/><path d="M628,748 L615,748 L615,745Z"/><path d="M658,748 L671,748 L658,745Z"/><path d="M644,760 L644,776 L640,760Z"/></g>
<g font-size="5" fill="#222"><text x="637" y="739">L</text><text x="630" y="747">K</text><text x="658" y="746">I</text><text x="641" y="766">J</text></g>
</g>

<g font-size="6.6" fill="#222">
<text x="584" y="1021">MÄRKUSED:</text><text x="584" y="1031">1) Käesolev joonis tühistab kõik</text><text x="584" y="1041">sama joonise numbriga</text><text x="584" y="1051">varasema kuupäevaga joonised</text><text x="584" y="1061">2) KÕIK MÕÕDUD KONTROLLIDA</text><text x="584" y="1071">OBJEKTIL!</text><text x="584" y="1081">Kõik mõõdud võetud plaanildelt</text><text x="584" y="1091">ning võivad erineda reaalsetest</text><text x="584" y="1101">mõõtudest!</text>
<text x="695" y="1021">3) Kõikide materjalide ja konstruktsioonide</text><text x="695" y="1031">kasutamisel peab teostaja kursis olema</text><text x="695" y="1041">vastavate paigaldus- ja käsitlusjuhenditega.</text><text x="695" y="1051">Need tuleb hankida materjalide ja</text><text x="695" y="1061">konstruktsioonide tootjatelt või müüjatelt.</text><text x="695" y="1071">4) Töövõtja kontrollib / arvutab materjalide</text><text x="695" y="1081">ja seadmete kogused ning ühilduvuse.</text><text x="695" y="1091">5) Töövõtja kontollib mõõdistamise käigus</text><text x="695" y="1101">torustiku ning pistikute asukohtade sobivust</text><text x="695" y="1111">mööbliga!</text>
<text x="834" y="1023">6) Tellija vastutab vajaliku torustiku ning elektri</text><text x="834" y="1033">valmiduse eest!</text><text x="834" y="1043">7) Kõik muudatused tuleb kooskõlastada</text><text x="834" y="1053">sisearhitekti ja tellijaga.</text><text x="834" y="1063">8) Töövõtja vastutab toote / lahenduse püsivuse</text><text x="834" y="1073">ning kestvuse eest ekspluatatsioonis.</text><text x="834" y="1083">9) Konstruktiivne lahendus kontrollida teostaja</text><text x="834" y="1093">poolt! Töövõtja võib täiustada konstruktsiooni/</text><text x="834" y="1103">lahendust eeldusel, et toote üldmulje ei muutu.</text>
</g>

<g stroke="#222" stroke-width="0.6" fill="none">
<line x1="995" y1="980" x2="995" y2="1018"/><line x1="995" y1="999" x2="1562" y2="999"/><line x1="995" y1="1018" x2="1562" y2="1018"/>
<line x1="1069" y1="980" x2="1069" y2="1018"/><line x1="1129" y1="980" x2="1129" y2="1018"/><line x1="1189" y1="980" x2="1189" y2="1018"/>
</g>
<g stroke="#3d5a3d" stroke-width="0.8" fill="none">
<rect x="995" y="1024" width="566" height="97"/>
<line x1="1191" y1="1024" x2="1191" y2="1121"/><line x1="1289" y1="1024" x2="1289" y2="1072"/><line x1="1386" y1="1024" x2="1386" y2="1109"/><line x1="1464" y1="1024" x2="1464" y2="1109"/>
<line x1="1191" y1="1072" x2="1561" y2="1072"/><line x1="1191" y1="1109" x2="1561" y2="1109"/>
<line x1="1464" y1="1037" x2="1561" y2="1037"/><line x1="1464" y1="1050" x2="1561" y2="1050"/><line x1="1464" y1="1084" x2="1561" y2="1084"/><line x1="1464" y1="1095" x2="1561" y2="1095"/>
</g>
<g font-size="6.5" fill="#444" font-style="italic">
<text x="1012" y="994">A</text><text x="1000" y="1012">revision</text><text x="1078" y="1012">fail</text><text x="1138" y="1012">kuupäev</text><text x="1194" y="1012">muudatuse sisu</text>
<text x="1000" y="1033">SISEARHITEKTUUR</text><text x="1194" y="1033">PROJEKT</text><text x="1292" y="1033">KLIENT</text><text x="1389" y="1033">LEPINGU NR.</text><text x="1467" y="1033">Rev_kuup.</text>
<text x="1467" y="1045">Kuupäev</text><text x="1523" y="1045" fill="#888">13.01.2024</text><text x="1467" y="1058">Mõõtkava</text><text x="1538" y="1067" fill="#888">1:50 /A3L</text>
<text x="1194" y="1078">JOONIS</text><text x="1389" y="1080">STAADIUM</text><text x="1467" y="1081">Joonise rev. nr.</text><text x="1467" y="1092">Joonise nr.</text><text x="1542" y="1092" fill="#888">PL_2</text><text x="1467" y="1104">Leht</text><text x="1548" y="1104" fill="#888">1/1</text>
<text x="1350" y="1056" fill="#888">Soots</text><text x="1430" y="1059" fill="#888">XXX</text><text x="1265" y="1097" fill="#888">PLAATIMISJOONISED</text><text x="1446" y="1094" fill="#888">PP</text>
</g>
<text x="1240" y="1116" font-size="4.5" fill="#3030c0">Joonistle sisu on konfidentsiaalne ja ei ole edastamiseks kolmandatele osapooltele, ilma molema osapoole nousolekutega.</text>
</svg>
</body></html>
